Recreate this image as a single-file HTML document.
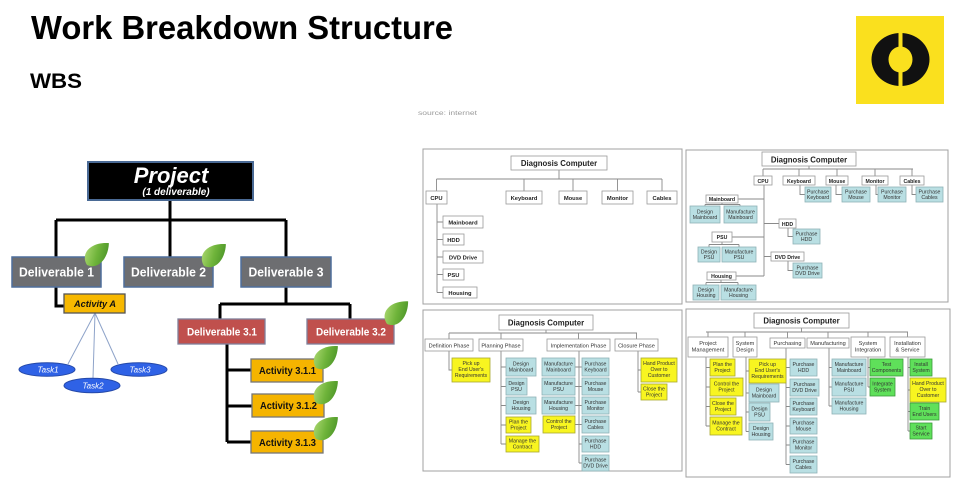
<!DOCTYPE html>
<html><head><meta charset="utf-8"><style>
html,body{margin:0;padding:0;background:#fff;}
svg{display:block;}
text{font-family:"Liberation Sans",Arial,sans-serif;}
.b{fill:#fff;stroke:#9a9a9a;stroke-width:0.8;}
.t{fill:#b9dfe3;stroke:#8fb2b6;stroke-width:0.8;}
.y{fill:#f8f520;stroke:#a8a830;stroke-width:0.8;}
.g{fill:#5fe05a;stroke:#3a9a3a;stroke-width:0.8;}
.ln{stroke:#8a8a8a;stroke-width:0.9;fill:none;}
.s{font-size:5.2px;fill:#333;text-anchor:middle;}
.sb{font-size:5.8px;fill:#222;text-anchor:middle;font-weight:bold;}
.dc{font-size:7.8px;fill:#222;text-anchor:middle;font-weight:bold;}
.bl{stroke:#000;stroke-width:3;fill:none;}
</style></head><body>
<svg width="965" height="491" viewBox="0 0 965 491" xmlns="http://www.w3.org/2000/svg">
<defs>
<linearGradient id="lg" x1="0" y1="0" x2="1" y2="1">
<stop offset="0" stop-color="#b5dd7a"/><stop offset="0.5" stop-color="#6fb43a"/><stop offset="1" stop-color="#3f8a22"/>
</linearGradient>
<path id="leaf" d="M0,0 C3,-13 19,-14 31,0 C19,11 4,11 0,0 Z" fill="url(#lg)"/>
</defs>
<rect width="965" height="491" fill="#fff"/>

<!-- Header -->
<text x="31" y="39" font-size="33" font-weight="bold" fill="#000" textLength="422" lengthAdjust="spacingAndGlyphs">Work Breakdown Structure</text>
<text x="30" y="88" font-size="21" font-weight="bold" fill="#000" textLength="52" lengthAdjust="spacingAndGlyphs">WBS</text>
<text x="418" y="115" font-size="6.5" fill="#9a9a9a" textLength="59" lengthAdjust="spacingAndGlyphs">source: internet</text>

<!-- Logo -->
<rect x="856" y="16" width="88" height="88" fill="#fae01e"/>
<path d="M871.5,59.5 a29,26.5 0 1,0 58,0 a29,26.5 0 1,0 -58,0 Z M888.5,59.5 a12,13 0 1,0 24,0 a12,13 0 1,0 -24,0 Z" fill="#111" fill-rule="evenodd"/>
<rect x="898.5" y="31" width="4" height="17" fill="#fae01e"/>
<rect x="898.5" y="71" width="4" height="17" fill="#fae01e"/>

<!-- Left WBS diagram: connectors -->
<path class="bl" d="M170,200 V220 M56,220 H286 M56,220 V257 M170,220 V257 M286,220 V257"/>
<path class="bl" d="M56,287 V306 H64"/>
<path class="bl" d="M286,287 V304 M220,304 H350 M220,304 V319 M350,304 V319"/>
<path class="bl" d="M227,344 V442 M227,370 H251 M227,406 H252 M227,442 H251"/>
<path d="M95,313 L68,364 M95,313 L93,378 M95,313 L118,364" stroke="#8ea3c9" stroke-width="1" fill="none"/>

<!-- Project -->
<rect x="88" y="162" width="165" height="38" fill="#000" stroke="#4a6a95" stroke-width="2"/>
<text x="171" y="183" font-size="22" font-weight="bold" font-style="italic" fill="#fff" text-anchor="middle">Project</text>
<text x="176" y="195" font-size="10" font-weight="bold" font-style="italic" fill="#fff" text-anchor="middle">(1 deliverable)</text>

<!-- Deliverables -->
<rect x="12" y="257" width="89" height="30" fill="#6d6e71" stroke="#4f6f9c" stroke-width="1.5"/>
<text x="56.5" y="276.5" font-size="13" font-weight="bold" fill="#fff" text-anchor="middle" textLength="75" lengthAdjust="spacingAndGlyphs">Deliverable 1</text>
<rect x="124" y="257" width="89" height="30" fill="#6d6e71" stroke="#4f6f9c" stroke-width="1.5"/>
<text x="168.5" y="276.5" font-size="13" font-weight="bold" fill="#fff" text-anchor="middle" textLength="75" lengthAdjust="spacingAndGlyphs">Deliverable 2</text>
<rect x="241" y="257" width="90" height="30" fill="#6d6e71" stroke="#4f6f9c" stroke-width="1.5"/>
<text x="286" y="276.5" font-size="13" font-weight="bold" fill="#fff" text-anchor="middle" textLength="75" lengthAdjust="spacingAndGlyphs">Deliverable 3</text>

<!-- Activity A -->
<rect x="64" y="294" width="61" height="19" fill="#f7b800" stroke="#555" stroke-width="1.3"/>
<text x="95" y="307" font-size="9" font-weight="bold" font-style="italic" fill="#111" text-anchor="middle" textLength="42" lengthAdjust="spacingAndGlyphs">Activity A</text>

<!-- Tasks -->
<ellipse cx="47" cy="369.5" rx="28" ry="6.8" fill="#2f62e6" stroke="#2448a8" stroke-width="1"/>
<text x="48" y="372.5" font-size="8" font-style="italic" fill="#fff" text-anchor="middle">Task1</text>
<ellipse cx="92" cy="385.5" rx="28" ry="7.2" fill="#2f62e6" stroke="#2448a8" stroke-width="1"/>
<text x="93" y="388.5" font-size="8" font-style="italic" fill="#fff" text-anchor="middle">Task2</text>
<ellipse cx="139" cy="369.5" rx="28" ry="6.8" fill="#2f62e6" stroke="#2448a8" stroke-width="1"/>
<text x="140" y="372.5" font-size="8" font-style="italic" fill="#fff" text-anchor="middle">Task3</text>

<!-- Deliverable 3.x -->
<rect x="178" y="319" width="87" height="25" fill="#c0504d" stroke="#7f7f9a" stroke-width="1.3"/>
<text x="222" y="335.5" font-size="11" font-weight="bold" fill="#fff" text-anchor="middle" textLength="70" lengthAdjust="spacingAndGlyphs">Deliverable 3.1</text>
<rect x="307" y="319" width="87" height="25" fill="#c0504d" stroke="#7f7f9a" stroke-width="1.3"/>
<text x="351" y="335.5" font-size="11" font-weight="bold" fill="#fff" text-anchor="middle" textLength="70" lengthAdjust="spacingAndGlyphs">Deliverable 3.2</text>

<!-- Activities 3.1.x -->
<rect x="251" y="359" width="72" height="23" fill="#f5b400" stroke="#777" stroke-width="1.3"/>
<text x="287.5" y="374" font-size="10" font-weight="bold" fill="#111" text-anchor="middle" textLength="57" lengthAdjust="spacingAndGlyphs">Activity 3.1.1</text>
<rect x="252" y="394" width="72" height="23" fill="#f5b400" stroke="#777" stroke-width="1.3"/>
<text x="288.5" y="409" font-size="10" font-weight="bold" fill="#111" text-anchor="middle" textLength="57" lengthAdjust="spacingAndGlyphs">Activity 3.1.2</text>
<rect x="251" y="431" width="72" height="22" fill="#f5b400" stroke="#777" stroke-width="1.3"/>
<text x="287.5" y="446" font-size="10" font-weight="bold" fill="#111" text-anchor="middle" textLength="57" lengthAdjust="spacingAndGlyphs">Activity 3.1.3</text>

<!-- Leaves -->
<use href="#leaf" transform="translate(87,265) rotate(-45)"/>
<use href="#leaf" transform="translate(204,266) rotate(-45)"/>
<use href="#leaf" transform="translate(387,324) rotate(-47)"/>
<use href="#leaf" transform="translate(316,368) rotate(-45)"/>
<use href="#leaf" transform="translate(316,403) rotate(-45)"/>
<use href="#leaf" transform="translate(316,439) rotate(-45)"/>

<!-- ================= Panel 1 ================= -->
<rect x="423" y="149" width="259" height="155" fill="#fff" stroke="#a0a0a0" stroke-width="1"/>
<path class="ln" d="M559,170 V179 M436.5,179 H662 M436.5,179 V191 M524,179 V191 M573,179 V191 M617.5,179 V191 M662,179 V191"/>
<path class="ln" d="M437,204 V292.5 M437,222 H443 M437,239.5 H443 M437,257 H443 M437,274.5 H443 M437,292.5 H443"/>
<rect class="b" x="511" y="156" width="96" height="14"/>
<text class="dc" x="559" y="166">Diagnosis Computer</text>
<rect class="b" x="426" y="191" width="21" height="13"/><text class="sb" x="436.5" y="200">CPU</text>
<rect class="b" x="506" y="191" width="36" height="13"/><text class="sb" x="524" y="200">Keyboard</text>
<rect class="b" x="559" y="191" width="28" height="13"/><text class="sb" x="573" y="200">Mouse</text>
<rect class="b" x="602" y="191" width="31" height="13"/><text class="sb" x="617.5" y="200">Monitor</text>
<rect class="b" x="647" y="191" width="30" height="13"/><text class="sb" x="662" y="200">Cables</text>
<rect class="b" x="443" y="216" width="40" height="12"/><text class="sb" x="463" y="224.5">Mainboard</text>
<rect class="b" x="443" y="234" width="21" height="11"/><text class="sb" x="453.5" y="242">HDD</text>
<rect class="b" x="443" y="251" width="40" height="12"/><text class="sb" x="463" y="259.5">DVD Drive</text>
<rect class="b" x="443" y="269" width="21" height="11"/><text class="sb" x="453.5" y="277">PSU</text>
<rect class="b" x="443" y="287" width="34" height="11"/><text class="sb" x="460" y="295">Housing</text>

<!-- ================= Panel 2 ================= -->
<rect x="686" y="150" width="262" height="152" fill="#fff" stroke="#a0a0a0" stroke-width="1"/>
<path class="ln" d="M809,166 V169 M763,169 H913 M763,169 V176 M799,169 V176 M837,169 V176 M875,169 V176 M912,169 V176"/>
<path class="ln" d="M800,185 V194.5 H805 M836,185 V194.5 H842 M876,185 V194.5 H878 M912,185 V194.5 H916"/>
<path class="ln" d="M764,185 V276 M738,199 H764 M764,223.5 H779 M732,237 H764 M764,256.5 H771 M736,276 H764"/>
<path class="ln" d="M788,228 V236.5 H793 M788,261 V270.5 H793"/>
<path class="ln" d="M722,203 V204.5 M705,204.5 H740 M705,204.5 V206 M740,204.5 V206 M722,242 V244.5 M709,244.5 H739 M709,244.5 V247 M739,244.5 V247 M721,280 V282.5 M706,282.5 H738 M706,282.5 V285 M738,282.5 V285"/>
<rect class="b" x="762" y="152" width="94" height="14"/>
<text class="dc" x="809" y="162.5">Diagnosis Computer</text>
<rect class="b" x="754" y="176" width="18" height="9"/><text class="sb" x="763" y="182.8" style="font-size:5.2px">CPU</text>
<rect class="b" x="783" y="176" width="32" height="9"/><text class="sb" x="799" y="182.8" style="font-size:5.2px">Keyboard</text>
<rect class="b" x="826" y="176" width="22" height="9"/><text class="sb" x="837" y="182.8" style="font-size:5.2px">Mouse</text>
<rect class="b" x="862" y="176" width="26" height="9"/><text class="sb" x="875" y="182.8" style="font-size:5.2px">Monitor</text>
<rect class="b" x="900" y="176" width="24" height="9"/><text class="sb" x="912" y="182.8" style="font-size:5.2px">Cables</text>
<rect class="t" x="805" y="187" width="26" height="15"/><text class="s" x="818" y="193.5">Purchase<tspan x="818" dy="5.5">Keyboard</tspan></text>
<rect class="t" x="842" y="187" width="28" height="15"/><text class="s" x="856" y="193.5">Purchase<tspan x="856" dy="5.5">Mouse</tspan></text>
<rect class="t" x="878" y="187" width="28" height="15"/><text class="s" x="892" y="193.5">Purchase<tspan x="892" dy="5.5">Monitor</tspan></text>
<rect class="t" x="916" y="187" width="27" height="15"/><text class="s" x="929.5" y="193.5">Purchase<tspan x="929.5" dy="5.5">Cables</tspan></text>
<rect class="b" x="706" y="195" width="32" height="8"/><text class="sb" x="722" y="201.2" style="font-size:5.2px">Mainboard</text>
<rect class="t" x="690" y="206" width="30" height="17"/><text class="s" x="705" y="213.5">Design<tspan x="705" dy="5.5">Mainboard</tspan></text>
<rect class="t" x="724" y="206" width="33" height="17"/><text class="s" x="740.5" y="213.5">Manufacture<tspan x="740.5" dy="5.5">Mainboard</tspan></text>
<rect class="b" x="779" y="219" width="17" height="9"/><text class="sb" x="787.5" y="225.8" style="font-size:5.2px">HDD</text>
<rect class="t" x="793" y="229" width="27" height="15"/><text class="s" x="806.5" y="235.5">Purchase<tspan x="806.5" dy="5.5">HDD</tspan></text>
<rect class="b" x="712" y="232" width="20" height="10"/><text class="sb" x="722" y="239" style="font-size:5.2px">PSU</text>
<rect class="t" x="698" y="247" width="22" height="15"/><text class="s" x="709" y="253.5">Design<tspan x="709" dy="5.5">PSU</tspan></text>
<rect class="t" x="722" y="247" width="34" height="15"/><text class="s" x="739" y="253.5">Manufacture<tspan x="739" dy="5.5">PSU</tspan></text>
<rect class="b" x="771" y="252" width="33" height="9"/><text class="sb" x="787.5" y="258.8" style="font-size:5.2px">DVD Drive</text>
<rect class="t" x="793" y="263" width="29" height="15"/><text class="s" x="807.5" y="269.5">Purchase<tspan x="807.5" dy="5.5">DVD Drive</tspan></text>
<rect class="b" x="707" y="272" width="29" height="8"/><text class="sb" x="721.5" y="278.2" style="font-size:5.2px">Housing</text>
<rect class="t" x="693" y="285" width="26" height="15"/><text class="s" x="706" y="291.5">Design<tspan x="706" dy="5.5">Housing</tspan></text>
<rect class="t" x="721" y="285" width="35" height="15"/><text class="s" x="738.5" y="291.5">Manufacture<tspan x="738.5" dy="5.5">Housing</tspan></text>

<!-- ================= Panel 3 ================= -->
<rect x="423" y="310" width="259" height="161" fill="#fff" stroke="#a0a0a0" stroke-width="1"/>
<path class="ln" d="M546,330 V333 M449,333 H637 M449,333 V339 M501,333 V339 M578.5,333 V339 M636.5,333 V339"/>
<path class="ln" d="M449,351 V370 H452"/>
<path class="ln" d="M501,351 V444 M501,367 H506 M501,386.5 H506 M501,405.5 H506 M501,425 H506 M501,444 H506"/>
<path class="ln" d="M579,351 V463 M575,367 H582 M575,386.5 H582 M575,405.5 H582 M575,424.5 H582 M579,444 H582 M579,463 H582"/>
<path class="ln" d="M638,351 V392 M638,370 H641 M638,392 H641"/>
<rect class="b" x="499" y="315" width="94" height="15"/>
<text class="dc" x="546" y="325.5">Diagnosis Computer</text>
<rect class="b" x="425" y="339" width="48" height="12"/><text class="s" x="449" y="347.3" style="font-size:5.6px">Definition Phase</text>
<rect class="b" x="479" y="339" width="44" height="12"/><text class="s" x="501" y="347.3" style="font-size:5.6px">Planning Phase</text>
<rect class="b" x="547" y="339" width="63" height="12"/><text class="s" x="578.5" y="347.3" style="font-size:5.6px">Implementation Phase</text>
<rect class="b" x="615" y="339" width="43" height="12"/><text class="s" x="636.5" y="347.3" style="font-size:5.6px">Closure Phase</text>
<rect class="y" x="452" y="358" width="38" height="24"/><text class="s" x="471" y="365">Pick up<tspan x="471" dy="6">End User's</tspan><tspan x="471" dy="6">Requirements</tspan></text>
<rect class="t" x="506" y="358" width="30" height="18"/><text class="s" x="521" y="365.5">Design<tspan x="521" dy="6">Mainboard</tspan></text>
<rect class="t" x="506" y="378" width="21" height="17"/><text class="s" x="516.5" y="385">Design<tspan x="516.5" dy="6">PSU</tspan></text>
<rect class="t" x="506" y="397" width="30" height="17"/><text class="s" x="521" y="404">Design<tspan x="521" dy="6">Housing</tspan></text>
<rect class="y" x="506" y="417" width="25" height="16"/><text class="s" x="518.5" y="423.5">Plan the<tspan x="518.5" dy="6">Project</tspan></text>
<rect class="y" x="506" y="436" width="33" height="16"/><text class="s" x="522.5" y="442.5">Manage the<tspan x="522.5" dy="6">Contract</tspan></text>
<rect class="t" x="542" y="358" width="33" height="18"/><text class="s" x="558.5" y="365.5">Manufacture<tspan x="558.5" dy="6">Mainboard</tspan></text>
<rect class="t" x="542" y="378" width="33" height="17"/><text class="s" x="558.5" y="385">Manufacture<tspan x="558.5" dy="6">PSU</tspan></text>
<rect class="t" x="542" y="397" width="33" height="17"/><text class="s" x="558.5" y="404">Manufacture<tspan x="558.5" dy="6">Housing</tspan></text>
<rect class="y" x="543" y="416" width="32" height="17"/><text class="s" x="559" y="423">Control  the<tspan x="559" dy="6">Project</tspan></text>
<rect class="t" x="582" y="358" width="27" height="18"/><text class="s" x="595.5" y="365.5">Purchase<tspan x="595.5" dy="6">Keyboard</tspan></text>
<rect class="t" x="582" y="378" width="27" height="17"/><text class="s" x="595.5" y="385">Purchase<tspan x="595.5" dy="6">Mouse</tspan></text>
<rect class="t" x="582" y="397" width="27" height="17"/><text class="s" x="595.5" y="404">Purchase<tspan x="595.5" dy="6">Monitor</tspan></text>
<rect class="t" x="582" y="416" width="27" height="17"/><text class="s" x="595.5" y="423">Purchase<tspan x="595.5" dy="6">Cables</tspan></text>
<rect class="t" x="582" y="436" width="27" height="16"/><text class="s" x="595.5" y="442.5">Purchase<tspan x="595.5" dy="6">HDD</tspan></text>
<rect class="t" x="582" y="455" width="27" height="16"/><text class="s" x="595.5" y="461.5">Purchase<tspan x="595.5" dy="6">DVD Drive</tspan></text>
<rect class="y" x="641" y="358" width="36" height="24"/><text class="s" x="659" y="365">Hand Product<tspan x="659" dy="6">Over to</tspan><tspan x="659" dy="6">Customer</tspan></text>
<rect class="y" x="641" y="384" width="26" height="16"/><text class="s" x="654" y="390.5">Close the<tspan x="654" dy="6">Project</tspan></text>

<!-- ================= Panel 4 ================= -->
<rect x="686" y="309" width="264" height="168" fill="#fff" stroke="#a0a0a0" stroke-width="1"/>
<path class="ln" d="M801.5,328 V332 M706,332 H908 M708,332 V337 M745,332 V337 M787.5,332 V338 M828,332 V338 M868,332 V337 M907.5,332 V337"/>
<path class="ln" d="M706,357 V426 M706,367.5 H710 M706,387 H710 M706,406.5 H710 M706,426 H710"/>
<path class="ln" d="M746,357 V431.5 M746,371 H749 M746,393 H749 M746,412 H749 M746,431.5 H749"/>
<path class="ln" d="M786,348 V464.5 M786,367.5 H790 M786,387.5 H790 M786,406.5 H790 M786,426 H790 M786,445 H790 M786,464.5 H790"/>
<path class="ln" d="M829,348 V406 M829,367.5 H832 M829,387 H832 M829,406 H832"/>
<path class="ln" d="M868,357 V387 M868,367.5 H870 M868,387 H870"/>
<path class="ln" d="M908,357 V431 M908,367.5 H910 M908,390 H910 M908,411.5 H910 M908,431 H910"/>
<rect class="b" x="754" y="313" width="95" height="15"/>
<text class="dc" x="801.5" y="323.5">Diagnosis Computer</text>
<rect class="b" x="688" y="337" width="40" height="20"/><text class="s" x="708" y="345" style="font-size:5.6px">Project<tspan x="708" dy="6.5">Management</tspan></text>
<rect class="b" x="733" y="337" width="24" height="20"/><text class="s" x="745" y="345" style="font-size:5.6px">System<tspan x="745" dy="6.5">Design</tspan></text>
<rect class="b" x="770" y="338" width="35" height="10"/><text class="s" x="787.5" y="345" style="font-size:5.6px">Purchasing</text>
<rect class="b" x="807" y="338" width="42" height="10"/><text class="s" x="828" y="345" style="font-size:5.6px">Manufacturing</text>
<rect class="b" x="851" y="337" width="34" height="20"/><text class="s" x="868" y="345" style="font-size:5.6px">System<tspan x="868" dy="6.5">Integration</tspan></text>
<rect class="b" x="890" y="337" width="35" height="20"/><text class="s" x="907.5" y="345" style="font-size:5.6px">Installation<tspan x="907.5" dy="6.5">&amp; Service</tspan></text>
<rect class="y" x="710" y="359" width="25" height="17"/><text class="s" x="722.5" y="366">Plan the<tspan x="722.5" dy="6">Project</tspan></text>
<rect class="y" x="710" y="378" width="33" height="18"/><text class="s" x="726.5" y="385.5">Control  the<tspan x="726.5" dy="6">Project</tspan></text>
<rect class="y" x="710" y="398" width="26" height="17"/><text class="s" x="723" y="405">Close the<tspan x="723" dy="6">Project</tspan></text>
<rect class="y" x="710" y="417" width="32" height="18"/><text class="s" x="726" y="424.5">Manage the<tspan x="726" dy="6">Contract</tspan></text>
<rect class="y" x="749" y="359" width="37" height="24"/><text class="s" x="767.5" y="366">Pick up<tspan x="767.5" dy="6">End User's</tspan><tspan x="767.5" dy="6">Requirements</tspan></text>
<rect class="t" x="749" y="384" width="30" height="18"/><text class="s" x="764" y="391.5">Design<tspan x="764" dy="6">Mainboard</tspan></text>
<rect class="t" x="749" y="403" width="21" height="18"/><text class="s" x="759.5" y="410.5">Design<tspan x="759.5" dy="6">PSU</tspan></text>
<rect class="t" x="749" y="423" width="24" height="17"/><text class="s" x="761" y="430">Design<tspan x="761" dy="6">Housing</tspan></text>
<rect class="t" x="790" y="359" width="27" height="17"/><text class="s" x="803.5" y="366">Purchase<tspan x="803.5" dy="6">HDD</tspan></text>
<rect class="t" x="790" y="379" width="29" height="17"/><text class="s" x="804.5" y="386">Purchase<tspan x="804.5" dy="6">DVD Drive</tspan></text>
<rect class="t" x="790" y="398" width="27" height="17"/><text class="s" x="803.5" y="405">Purchase<tspan x="803.5" dy="6">Keyboard</tspan></text>
<rect class="t" x="790" y="418" width="27" height="16"/><text class="s" x="803.5" y="424.5">Purchase<tspan x="803.5" dy="6">Mouse</tspan></text>
<rect class="t" x="790" y="437" width="27" height="16"/><text class="s" x="803.5" y="443.5">Purchase<tspan x="803.5" dy="6">Monitor</tspan></text>
<rect class="t" x="790" y="456" width="27" height="17"/><text class="s" x="803.5" y="463">Purchase<tspan x="803.5" dy="6">Cables</tspan></text>
<rect class="t" x="832" y="359" width="34" height="17"/><text class="s" x="849" y="366">Manufacture<tspan x="849" dy="6">Mainboard</tspan></text>
<rect class="t" x="832" y="378" width="34" height="18"/><text class="s" x="849" y="385.5">Manufacture<tspan x="849" dy="6">PSU</tspan></text>
<rect class="t" x="832" y="398" width="34" height="16"/><text class="s" x="849" y="404.5">Manufacture<tspan x="849" dy="6">Housing</tspan></text>
<rect class="g" x="870" y="359" width="33" height="17"/><text class="s" x="886.5" y="366">Test<tspan x="886.5" dy="6">Components</tspan></text>
<rect class="g" x="870" y="378" width="25" height="18"/><text class="s" x="882.5" y="385.5">Integrate<tspan x="882.5" dy="6">System</tspan></text>
<rect class="g" x="910" y="359" width="22" height="17"/><text class="s" x="921" y="366">Install<tspan x="921" dy="6">System</tspan></text>
<rect class="y" x="910" y="378" width="36" height="24"/><text class="s" x="928" y="385">Hand Product<tspan x="928" dy="6">Over to</tspan><tspan x="928" dy="6">Customer</tspan></text>
<rect class="g" x="910" y="403" width="29" height="17"/><text class="s" x="924.5" y="410">Train<tspan x="924.5" dy="6">End Users</tspan></text>
<rect class="g" x="910" y="423" width="22" height="16"/><text class="s" x="921" y="429.5">Start<tspan x="921" dy="6">Service</tspan></text>
</svg>
</body></html>
